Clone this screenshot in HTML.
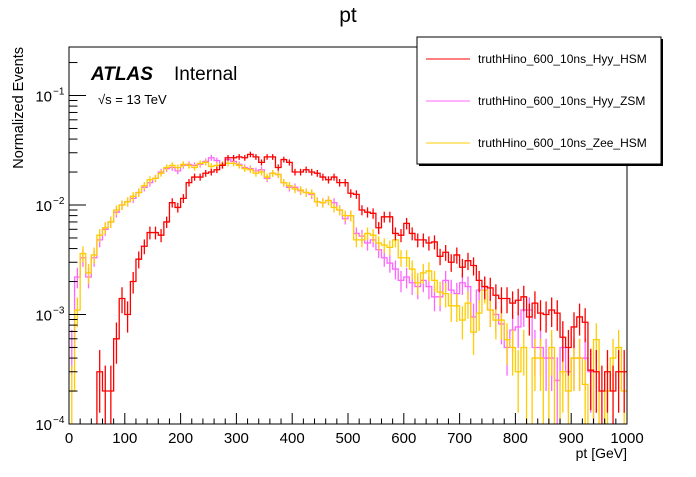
<!DOCTYPE html>
<html><head><meta charset="utf-8"><style>
body{margin:0;background:#fff;width:696px;height:472px;overflow:hidden}
svg{font-family:"Liberation Sans",Arial,sans-serif}
</style></head><body>
<svg id="c" width="696" height="472" xmlns="http://www.w3.org/2000/svg">
<rect width="696" height="472" fill="#fff"/>
<text x="348" y="22" font-size="21" text-anchor="middle">pt</text>
<g id="plot"></g>
<rect x="69" y="47" width="558" height="377" fill="none" stroke="#000" stroke-width="1"/>
<g id="axes"></g>
<text x="627" y="458" font-size="14" text-anchor="end">pt [GeV]</text>
<text transform="translate(23,47) rotate(-90)" font-size="14.5" text-anchor="end">Normalized Events</text>
<text x="91" y="80" font-size="19" font-weight="bold" font-style="italic">ATLAS</text>
<text x="174" y="80" font-size="19">Internal</text>
<text x="98" y="104" font-size="13">√s = 13 TeV</text>
<g>
<rect x="419" y="39" width="244" height="127" fill="#000"/>
<rect x="417" y="37" width="244" height="127" fill="#fff" stroke="#000"/>
<g><line x1="426" y1="59" x2="470" y2="59" stroke="#f00"/><text x="478" y="63" font-size="12">truthHino_600_10ns_Hyy_HSM</text></g>
<g><line x1="426" y1="101" x2="470" y2="101" stroke="#f6f"/><text x="478" y="105" font-size="12">truthHino_600_10ns_Hyy_ZSM</text></g>
<g><line x1="426" y1="143" x2="470" y2="143" stroke="#fc0"/><text x="478" y="147" font-size="12">truthHino_600_10ns_Zee_HSM</text></g>
</g>
</svg>
<script>
const binEdges=[0,1000];
const nBins=100;
const yTickLabels=["10","10","10","10"];
const yTickExps=[-4,-3,-2,-1];
const xTickLabels=[0,100,200,300,400,500,600,700,800,900,1000];
const hyyHSM=[0,0,0,0,0,3e-4,2e-4,2e-4,6e-4,1.4e-3,
1e-3,2e-3,3.2e-3,4.2e-3,5.6e-3,5.6e-3,5.3e-3,7e-3,1.05e-2,9.5e-3,
1.15e-2,1.6e-2,1.8e-2,1.8e-2,1.95e-2,2e-2,2.1e-2,2.3e-2,2.7e-2,2.7e-2,
2.75e-2,2.7e-2,2.9e-2,2.75e-2,2.45e-2,2.75e-2,2.75e-2,2.2e-2,2.6e-2,2.45e-2,
2e-2,2e-2,2.1e-2,2e-2,1.95e-2,1.8e-2,1.7e-2,1.8e-2,1.6e-2,1.6e-2,
1.28e-2,1.25e-2,9e-3,8.6e-3,8.4e-3,6.2e-3,7.8e-3,7.8e-3,5.5e-3,5.3e-3,
6.8e-3,5.5e-3,4.8e-3,4.8e-3,4.5e-3,4.6e-3,3.4e-3,3.7e-3,3e-3,3.5e-3,
2.7e-3,3.1e-3,2.8e-3,2.05e-3,1.8e-3,1.75e-3,1.5e-3,1.4e-3,1.4e-3,1.27e-3,
1.35e-3,1.45e-3,9.5e-4,1.27e-3,1.03e-3,1e-3,1.1e-3,1.03e-3,6.2e-4,5e-4,
7.7e-4,9.5e-4,8.5e-4,3.1e-4,3e-4,2e-4,3e-4,2e-4,3e-4,3e-4];
const hyyZSM=[5e-4,2.2e-3,3.3e-3,2.2e-3,3.3e-3,4.8e-3,6e-3,7e-3,8.6e-3,1e-2,
1.07e-2,1.15e-2,1.3e-2,1.45e-2,1.6e-2,1.75e-2,2e-2,2.15e-2,2.2e-2,2.05e-2,
2.3e-2,2.35e-2,2.3e-2,2.35e-2,2.5e-2,2.7e-2,2.55e-2,2.3e-2,2.6e-2,2.5e-2,
2.35e-2,2.2e-2,2.15e-2,2.05e-2,2.1e-2,1.75e-2,1.95e-2,1.9e-2,1.6e-2,1.45e-2,
1.45e-2,1.35e-2,1.3e-2,1.25e-2,1.07e-2,1.05e-2,1.1e-2,1.05e-2,9e-3,7.5e-3,
8e-3,5.5e-3,5.2e-3,4.5e-3,4.8e-3,3.9e-3,3.3e-3,2.95e-3,2.6e-3,2.05e-3,
2.2e-3,1.95e-3,1.8e-3,2.05e-3,1.8e-3,1.45e-3,1.45e-3,2.05e-3,1.67e-3,1.55e-3,
1.95e-3,1.8e-3,9.5e-4,1.67e-3,1.8e-3,1.1e-3,1e-3,8.2e-4,5e-4,7.2e-4,
7.7e-4,1.1e-3,1.1e-3,5e-4,5e-4,4e-4,4e-4,2.5e-4,5e-4,3e-4,
4e-4,4e-4,4e-4,3e-4,0,0,0,0,0,0];
const zeeHSM=[2e-4,1.1e-3,3.6e-3,2.4e-3,3.5e-3,5.3e-3,6.2e-3,7e-3,9e-3,1e-2,
1.07e-2,1.2e-2,1.3e-2,1.5e-2,1.7e-2,1.75e-2,1.95e-2,2.2e-2,2.3e-2,2.2e-2,
2.35e-2,2.3e-2,2.2e-2,2.4e-2,2.45e-2,2.25e-2,2.3e-2,2.35e-2,2.4e-2,2.4e-2,
2.3e-2,2.15e-2,2.1e-2,1.95e-2,2e-2,1.8e-2,1.95e-2,1.9e-2,1.6e-2,1.5e-2,
1.4e-2,1.37e-2,1.3e-2,1.28e-2,1.07e-2,1.05e-2,1.1e-2,9.5e-3,9e-3,8e-3,
8e-3,4.8e-3,4.8e-3,5.5e-3,5.3e-3,4.5e-3,4.3e-3,4.1e-3,4.8e-3,3.3e-3,
3.3e-3,2.6e-3,1.95e-3,2.4e-3,2.5e-3,2.05e-3,1.6e-3,1.55e-3,1.2e-3,1.2e-3,
8.9e-4,1.27e-3,6.9e-4,1.03e-3,1.67e-3,1.1e-3,8.9e-4,8.9e-4,5.9e-4,5e-4,
3e-4,5e-4,0,4e-4,4e-4,0,5e-4,0,3e-4,2e-4,
4e-4,4e-4,2.3e-4,0,5.9e-4,0,2e-4,4e-4,5e-4,2e-4];
const seriesNames=["hyy-zsm","zee-hsm","hyy-hsm"];
const seriesColors=["#ff66ff","#ffcc00","#ff0000"];
const seriesData=[hyyZSM,zeeHSM,hyyHSM];

const X0=69,X1=627,Y0=424,YT=47,DEC=109.5;
const xs=v=>X0+(v-binEdges[0])/(binEdges[1]-binEdges[0])*(X1-X0);
const ys=v=>v<=0?Y0+5:Y0-(Math.log10(v)+4)*DEC;
const NS="http://www.w3.org/2000/svg";
function mk(t,a,p){const e=document.createElementNS(NS,t);for(const k in a)e.setAttribute(k,a[k]);p.appendChild(e);return e;}
const svg=document.getElementById('c');
const defs=mk('defs',{},svg);
const cp=mk('clipPath',{id:'clip'},defs);mk('rect',{x:X0,y:YT,width:X1-X0,height:Y0-YT},cp);
const plot=document.getElementById('plot');plot.setAttribute('clip-path','url(#clip)');
const bw=(binEdges[1]-binEdges[0])/nBins;
seriesData.forEach((arr,si)=>{
  const g=mk('g',{},plot);
  
  
  let d='';
  arr.forEach((v,i)=>{const xa=xs(i*bw),xb=xs((i+1)*bw),y=ys(v);d+=(i==0?'M':'L')+xa+','+y+'L'+xb+','+y;});
  const p=mk('path',{d:d,fill:'none',stroke:seriesColors[si],'stroke-width':1.3},g);
  
  
  arr.forEach((v,i)=>{
    if(v<=0)return;
    const e=Math.sqrt(v*1e-4);const xc=xs((i+0.5)*bw);
    const l=mk('line',{x1:xc,x2:xc,y1:ys(v+e),y2:ys(Math.max(v-e,1e-6)),stroke:seriesColors[si],'stroke-width':1.3},g);
    
    
  });
});
const ax=document.getElementById('axes');
for(let v=0;v<=1000;v+=20){
  const x=xs(v),major=v%100==0;
  const t=mk('line',{x1:x,x2:x,y1:Y0,y2:Y0-(major?11:5.5),stroke:'#000'},ax);
  
  
}
xTickLabels.forEach(v=>{
  const t=mk('text',{x:xs(v),y:443,'font-size':15,'text-anchor':'middle'},ax);t.textContent=v;
  
  
});
for(let e=-4;e<=-1;e++){for(let m=1;m<=9;m++){
  const v=m*Math.pow(10,e);const y=ys(v);if(y<YT)continue;
  const t=mk('line',{x1:X0,x2:X0+(m==1?17:8.5),y1:y,y2:y,stroke:'#000'},ax);
  
  
}}
yTickExps.forEach((e,i)=>{
  const y=ys(Math.pow(10,e));
  const t=mk('text',{x:52,y:y+6,'font-size':15,'text-anchor':'end'},ax);t.textContent=yTickLabels[i];
  
  
  const s=mk('text',{x:53,y:y-1,'font-size':10},ax);s.textContent='−'+(-e);
  
  
});
</script>
</body></html>
